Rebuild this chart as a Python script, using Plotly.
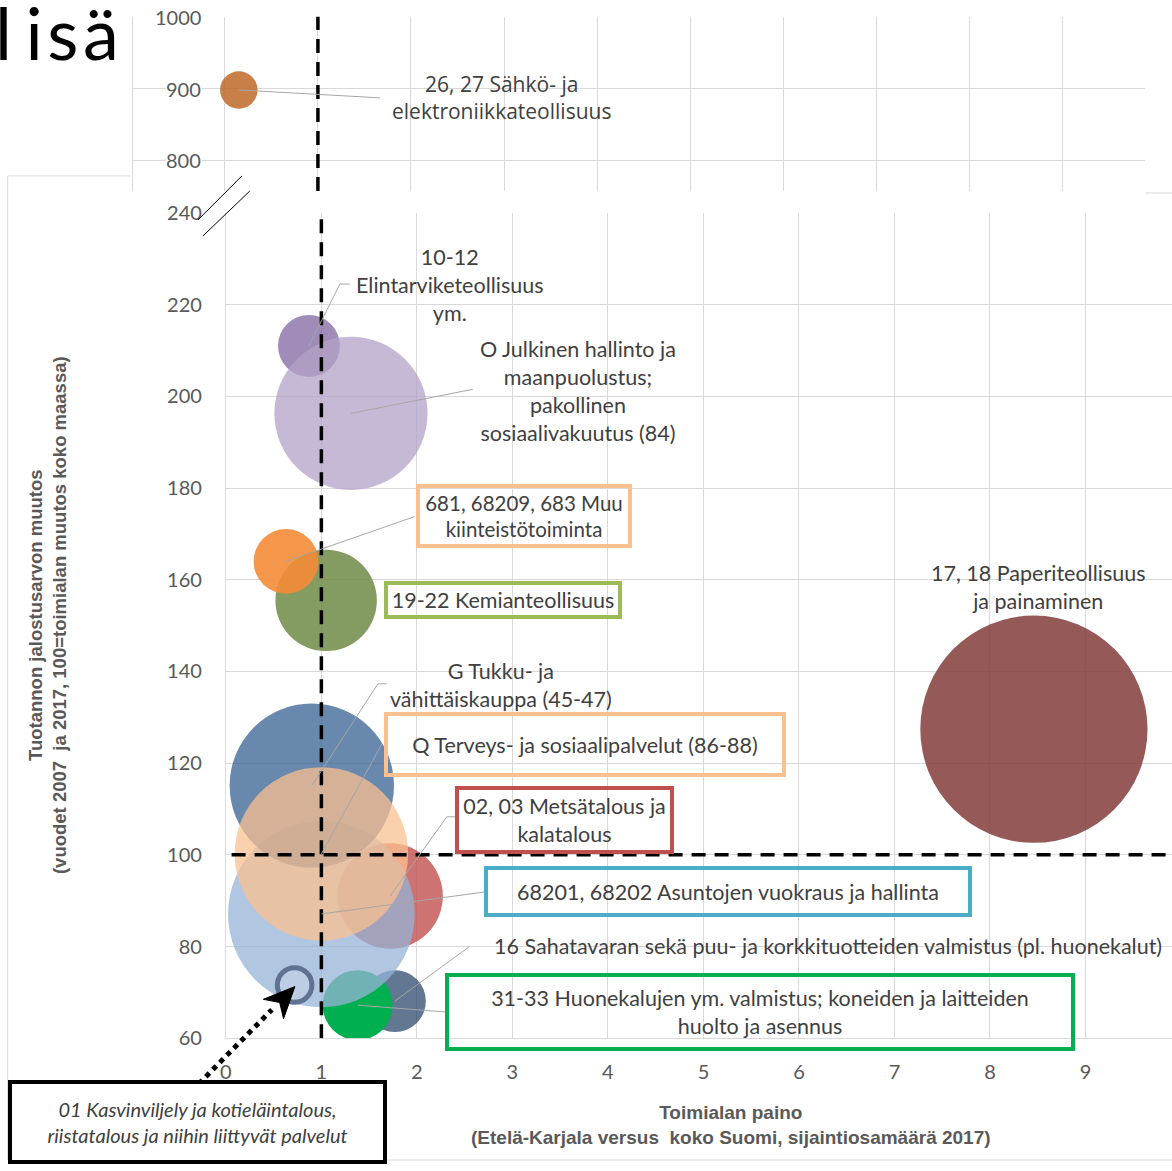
import plotly.graph_objects as go

W, H = 1172, 1171

# ---------------- data ----------------
industry = [
    "17, 18 Paperiteollisuus ja painaminen",
    "16 Sahatavaran sekä puu- ja korkkituotteiden valmistus (pl. huonekalut)",
    "31-33 Huonekalujen ym. valmistus; koneiden ja laitteiden huolto ja asennus",
    "02, 03 Metsätalous ja kalatalous",
    "68201, 68202 Asuntojen vuokraus ja hallinta",
    "G Tukku- ja vähittäiskauppa (45-47)",
    "Q Terveys- ja sosiaalipalvelut (86-88)",
    "01 Kasvinviljely ja kotieläintalous, riistatalous ja niihin liittyvät palvelut",
    "10-12 Elintarviketeollisuus ym.",
    "O Julkinen hallinto ja maanpuolustus; pakollinen sosiaalivakuutus (84)",
    "19-22 Kemianteollisuus",
    "681, 68209, 683 Muu kiinteistötoiminta",
]
paino = [8.46, 1.77, 1.38, 1.72, 1.00, 0.90, 1.00, 0.72, 0.87, 1.31, 1.05, 0.63]
muutos = [127.4, 68.1, 67.2, 91.0, 87.1, 115.1, 100.2, 71.6, 211.0, 196.3, 155.5, 164.0]
koko = [1254, 93, 119, 270, 846, 656, 731, 29, 93, 570, 250, 102]

top_industry = ["26, 27 Sähkö- ja elektroniikkateollisuus"]
top_paino = [0.15]
top_muutos = [898]
top_koko = [34]

x_ticks = list(range(0, 10))
y_ticks = list(range(60, 241, 20))
top_y_ticks = [800, 900, 1000]
reference_x = 1
reference_y = 100

# ---------------- styles ----------------
fills = [
    "rgba(131,60,59,0.85)", "rgba(23,55,94,0.68)", "rgba(0,176,80,1)",
    "rgba(192,80,77,0.8)", "rgba(149,179,215,0.75)", "rgba(55,96,146,0.75)",
    "rgba(250,192,144,0.75)", "rgba(200,212,230,0.55)", "rgba(128,100,162,0.75)",
    "rgba(179,162,199,0.75)", "rgba(111,138,69,0.85)", "rgba(244,140,55,0.9)",
]
line_w = [0, 0, 0, 0, 0, 0, 0, 5, 0, 0, 0, 0]
line_c = ["rgba(0,0,0,0)"] * 7 + ["#5F7391"] + ["rgba(0,0,0,0)"] * 4
top_fill = ["rgba(192,104,40,0.85)"]

# layout placement helpers: target picture pixel -> paper fraction
SX, OX, SY, OY = 0.9942, 6.3, 0.9775, 15.4


def PXr(x):
    return ((x - OX) / SX) / W


def PX(x):
    return min(max(PXr(x), 0.0), 1.0)


def PY(y):
    return min(max(1 - ((y - OY) / SY) / H, 0.0), 1.0)


# plotly area mode: diameter = sqrt(2*v/sizeref); largest bubble ~224 px across
SIZEREF = 2 * max(koko) / (224 / ((SX + SY) / 2)) ** 2

GRID = "#D9D9D9"
TXT = "#404040"
TICK = "#595959"
LFONT = dict(family="Lato", size=21.5, color=TXT)

# label placement (data coords) and leader elbows
labels = [
    dict(i=0, text="17, 18 Paperiteollisuus<br>ja painaminen", x=8.503, y=158.4),
    dict(i=1, text="16 Sahatavaran sekä puu- ja korkkituotteiden valmistus (pl. huonekalut)",
         x=2.785, y=80.1, xanchor="left", lead=[(2.55, 80.0)]),
    dict(i=2, text="31-33 Huonekalujen ym. valmistus; koneiden ja laitteiden<br>huolto ja asennus",
         x=5.592, y=65.7, box="#00B050", w=618, h=68, lead=[(2.314, 65.7)]),
    dict(i=3, text="02, 03 Metsätalous ja<br>kalatalous", x=3.550, y=107.7, box="#C0504D",
         w=210, h=59, lead=[(2.314, 108.3), (2.408, 108.3)]),
    dict(i=4, text="68201, 68202 Asuntojen vuokraus ja hallinta", x=5.262, y=91.9,
         box="#4BACC6", w=477, h=42, lead=[(2.712, 91.9)]),
    dict(i=5, text="G Tukku- ja<br>vähittäiskauppa (45-47)", x=2.880, y=137.1,
         lead=[(1.592, 137.3), (1.686, 137.3)]),
    dict(i=6, text="Q Terveys- ja sosiaalipalvelut (86-88)", x=3.759, y=124.1,
         box="#FAC090", w=392, h=56, lead=[(1.634, 124.2)]),
    dict(i=8, text="10-12<br>Elintarviketeollisuus<br>ym.", x=2.346, y=224.4,
         lead=[(1.194, 224.5), (1.298, 224.5)]),
    dict(i=9, text="O Julkinen hallinto ja<br>maanpuolustus;<br>pakollinen<br>sosiaalivakuutus (84)",
         x=3.686, y=201.2, lead=[(2.586, 201.55)]),
    dict(i=10, text="19-22 Kemianteollisuus", x=2.901, y=155.5, box="#9BBB59", w=229, h=29),
    dict(i=11, text="681, 68209, 683 Muu<br>kiinteistötoiminta", x=3.126, y=173.9,
         box="#FAC090", w=207, h=55, lead=[(1.979, 173.8)], size=20.5),
]

fig = go.Figure()

fig.add_trace(go.Scatter(
    x=paino, y=muutos, mode="markers", text=industry, hoverinfo="skip",
    marker=dict(size=koko, sizemode="area", sizeref=SIZEREF, color=fills, opacity=1,
                line=dict(width=line_w, color=line_c)),
    xaxis="x", yaxis="y", showlegend=False,
))
fig.add_trace(go.Scatter(
    x=top_paino, y=top_muutos, mode="markers", text=top_industry, hoverinfo="skip",
    marker=dict(size=top_koko, sizemode="area", sizeref=SIZEREF, color=top_fill, opacity=1,
                line=dict(width=0)),
    xaxis="x2", yaxis="y2", showlegend=False,
))

shapes = []
annotations = []
DASH = dict(color="black", width=3.5, dash="14px,9px")
# reference lines
shapes.append(dict(type="line", xref="x", yref="y", x0=reference_x, x1=reference_x,
                   y0=y_ticks[0], y1=y_ticks[-1], line=DASH, layer="above"))
shapes.append(dict(type="line", xref="x", yref="y", x0=0.06, x1=946 / 95.5,
                   y0=reference_y, y1=reference_y, line=DASH, layer="above"))
shapes.append(dict(type="line", xref="x2", yref="y2", x0=reference_x, x1=reference_x,
                   y0=757.5, y1=1000, line=DASH, layer="above"))

# labels and leader lines
for lb in labels:
    i = lb["i"]
    if "lead" in lb:
        pts = [(paino[i], muutos[i])] + lb["lead"]
        path = "M %f,%f " % pts[0] + " ".join("L %f,%f" % p for p in pts[1:])
        shapes.append(dict(type="path", xref="x", yref="y", path=path,
                           line=dict(color="#A6A6A6", width=1), layer="above"))
    f = dict(LFONT)
    if "size" in lb:
        f["size"] = lb["size"]
    ann = dict(xref="x", yref="y", x=lb["x"], y=lb["y"], text=lb["text"], showarrow=False,
               font=f, xanchor=lb.get("xanchor", "center"), yanchor="middle", align="center")
    if "box" in lb:
        ann.update(bordercolor=lb["box"], borderwidth=4, borderpad=0,
                   width=round(lb["w"] / SX), height=round(lb["h"] / SY))
    annotations.append(ann)

# top panel label
tp = [(top_paino[0], top_muutos[0]), (1.667, 887)]
shapes.append(dict(type="path", xref="x2", yref="y2",
                   path="M %f,%f L %f,%f" % (tp[0] + tp[1]),
                   line=dict(color="#A6A6A6", width=1), layer="above"))
annotations.append(dict(xref="x2", yref="y2", x=2.968, y=887, showarrow=False,
                        xanchor="center", yanchor="middle",
                        text="26, 27 Sähkö- ja<br>elektroniikkateollisuus",
                        font=dict(family="Open Sans", size=21, color=TXT)))
for v in top_y_ticks:
    annotations.append(dict(xref="x2", yref="y2", x=-0.247, y=v, xanchor="right",
                            yanchor="middle", showarrow=False,
                            text=str(v), bgcolor="white", borderpad=0,
                            font=dict(family="Lato", size=20, color=TICK)))

# 01 Kasvinviljely callout box
annotations.append(dict(xref="paper", yref="paper", x=PX(198), y=PY(1122), showarrow=False,
                        xanchor="center", yanchor="middle",
                        text="<i>01 Kasvinviljely ja kotieläintalous,<br>riistatalous ja niihin liittyvät palvelut</i>",
                        font=dict(family="Lato", size=20, color=TXT), bordercolor="black",
                        borderwidth=4, borderpad=0, width=round(369 / SX), height=76,
                        bgcolor="white"))
# dotted arrow
shapes.append(dict(type="line", xref="paper", yref="paper", x0=PX(199), y0=PY(1084),
                   x1=PX(272), y1=PY(1010), line=dict(color="black", width=5, dash="dot")))
tip = (295, 987)
d = (0.692, -0.722)
pp = (0.722, 0.692)
L, Wd, N = 31, 14, 22
b = (tip[0] - L * d[0], tip[1] - L * d[1])
n = (tip[0] - N * d[0], tip[1] - N * d[1])
c1 = (b[0] + Wd * pp[0], b[1] + Wd * pp[1])
c2 = (b[0] - Wd * pp[0], b[1] - Wd * pp[1])
head = "M %f,%f L %f,%f L %f,%f L %f,%f Z" % (PX(tip[0]), PY(tip[1]), PX(c1[0]), PY(c1[1]),
                                              PX(n[0]), PY(n[1]), PX(c2[0]), PY(c2[1]))
shapes.append(dict(type="path", xref="paper", yref="paper", path=head,
                   fillcolor="black", line=dict(color="black", width=1)))

# axis break marks
for (xa, ya, xb, yb) in [(198, 222, 242, 178), (203, 238, 250, 193)]:
    shapes.append(dict(type="line", xref="paper", yref="paper", x0=PX(xa), y0=PY(ya),
                       x1=PX(xb), y1=PY(yb), line=dict(color="black", width=1)))
# outer frame pieces
for (xa, ya, xb, yb) in [(8, 178, 8, 1169), (8, 178, 130, 178), (1145, 195, 1172, 195),
                         (8, 1169, 1172, 1169)]:
    shapes.append(dict(type="line", xref="paper", yref="paper", x0=PX(xa), y0=PY(ya),
                       x1=PX(xb), y1=PY(yb), line=dict(color=GRID, width=1), layer="below"))

# axis titles
annotations.append(dict(xref="paper", yref="paper", x=PX(731), y=PY(1125.5), showarrow=False,
                        xanchor="center", yanchor="middle",
                        text="<b>Toimialan paino<br>(Etelä-Karjala versus  koko Suomi, sijaintiosamäärä 2017)</b>",
                        font=dict(family="Liberation Sans", size=19, color=TICK)))
annotations.append(dict(xref="paper", yref="paper", x=PX(48.5), y=PY(616), showarrow=False,
                        xanchor="center", yanchor="middle", textangle=-90,
                        text="<b>Tuotannon jalostusarvon muutos<br>(vuodet 2007  ja 2017, 100=toimialan muutos koko maassa)</b>",
                        font=dict(family="Liberation Sans", size=18.5, color=TICK)))
# heading fragment
annotations.append(dict(xref="paper", yref="paper", x=PXr(-7), y=PY(34), xanchor="left",
                        yanchor="middle", showarrow=False, text="l\u2009\u200ai\u200as\u200aä",
                        font=dict(family="Lato", size=72, color="black")))

axis_common = dict(showgrid=True, gridcolor=GRID, gridwidth=1, zeroline=False, ticks="",
                   tickfont=dict(family="Lato", size=20, color=TICK))

fig.update_layout(
    width=W, height=H, margin=dict(l=0, r=0, t=0, b=0),
    paper_bgcolor="white", plot_bgcolor="rgba(0,0,0,0)", hovermode=False,
    font=dict(family="Lato", color=TXT),
    xaxis=dict(domain=[PX(226), PX(1172)], range=[0, 946 / 95.5], tickvals=x_ticks,
               showline=True, linecolor=GRID, linewidth=1, anchor="y",
               ticklabelstandoff=16, **axis_common),
    yaxis=dict(domain=[PY(1038.5), PY(215)], range=[60, 240], tickvals=y_ticks,
               showline=True, linecolor=GRID, linewidth=1, anchor="x",
               ticklabelstandoff=19, **axis_common),
    xaxis2=dict(domain=[PX(133), PX(1145)], range=[(133 - 225) / 93, (1145 - 225) / 93],
                tickvals=x_ticks, showticklabels=False, anchor="y2", **axis_common),
    yaxis2=dict(domain=[PY(193), PY(19)], range=[757.5, 1000], tickvals=top_y_ticks,
                showticklabels=False, showline=True, linecolor=GRID, linewidth=1,
                anchor="x2", **axis_common),
    shapes=shapes, annotations=annotations,
)

fig.write_html("out.html", config={"displayModeBar": False, "responsive": False},
               post_script="document.body.style.margin='0';document.body.style.overflow='hidden';")
